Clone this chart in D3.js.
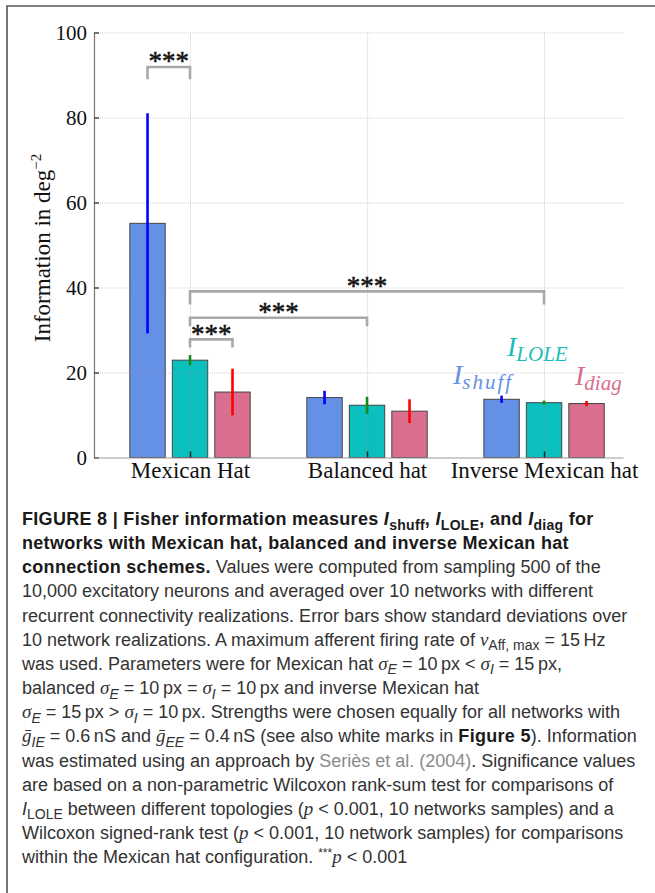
<!DOCTYPE html>
<html>
<head>
<meta charset="utf-8">
<script src="https://cdn.jsdelivr.net/npm/d3@7"></script>
<style>
  html, body { margin: 0; padding: 0; background: #fff; }
  svg { display: block; }
</style>
</head>
<body>
<svg id="fig" width="655" height="893"></svg>
<script>
// ---- data ----
const groups = ["Mexican Hat", "Balanced hat", "Inverse Mexican hat"];
const measures = ["shuff", "LOLE", "diag"];
const shuffMean = [55.1, 14.1, 13.7];
const shuffSD   = [25.9, 1.6, 0.85];
const loleMean  = [22.9, 12.3, 12.9];
const loleSD    = [1.2, 2.0, 0.5];
const diagMean  = [15.4, 10.9, 12.7];
const diagSD    = [5.5, 2.8, 0.6];
const yTicks = [0, 20, 40, 60, 80, 100];
// significance brackets: [groupA, measureA] vs [groupB, measureB], bracket level, leg length
const sigFrom  = [[0, 0], [0, 1], [0, 1], [0, 1]];
const sigTo    = [[0, 1], [0, 2], [1, 1], [2, 1]];
const sigLevel = [91.9, 27.8, 32.9, 39.1];
const sigDrop  = [2.9, 1.9, 2.0, 3.1];
const sigLabel = ["***", "***", "***", "***"];

const means = [shuffMean, loleMean, diagMean];
const sds = [shuffSD, loleSD, diagSD];
const fills = ["#6490E6", "#0ABFBD", "#D96E8F"];
const errColors = ["#0000FF", "#118A11", "#FF0000"];

const svg = d3.select("#fig");

// outer frame (top and left rules)
svg.append("path")
  .attr("d", "M7,893V6H655")
  .attr("fill", "none").attr("stroke", "#555").attr("stroke-width", 1.6);

// ---- scales ----
const x = d3.scaleLinear().domain([0.4576, 3.446]).range([94, 623]);
const y = d3.scaleLinear().domain([0, 100]).range([457.5, 32.5]);
const offset = [-0.24, 0, 0.24];
const barW = 0.2;
const cx = (g, m) => x(g + 1 + offset[m]);

const serif = "'Liberation Serif', 'Times New Roman', serif";
const sans = "'Liberation Sans', Arial, Helvetica, sans-serif";

// ---- bars ----
const rows = [];
groups.forEach((g, gi) => measures.forEach((m, mi) => rows.push({ gi, mi, v: means[mi][gi], sd: sds[mi][gi] })));

svg.append("g").selectAll("rect").data(rows).join("rect")
  .attr("x", d => x(d.gi + 1 + offset[d.mi] - barW / 2))
  .attr("width", d => x(d.gi + 1 + offset[d.mi] + barW / 2) - x(d.gi + 1 + offset[d.mi] - barW / 2))
  .attr("y", d => y(d.v))
  .attr("height", d => y(0) - y(d.v))
  .attr("fill", d => fills[d.mi])
  .attr("stroke", "#444").attr("stroke-width", 1);

// ---- grid (drawn over the bars) ----
const grid = svg.append("g").attr("stroke", "#9a9a9a").attr("stroke-opacity", 0.45)
  .attr("stroke-width", 1).attr("stroke-dasharray", "1,1");
grid.selectAll("line.h").data(yTicks.filter(t => t > 0)).join("line")
  .attr("x1", x.range()[0]).attr("x2", x.range()[1])
  .attr("y1", d => y(d) + 0.5).attr("y2", d => y(d) + 0.5);
grid.selectAll("line.v").data(groups).join("line")
  .attr("x1", (d, i) => x(i + 1) + 0.5).attr("x2", (d, i) => x(i + 1) + 0.5)
  .attr("y1", y(100)).attr("y2", y(0));

// ---- error bars ----
svg.append("g").selectAll("line").data(rows).join("line")
  .attr("x1", d => cx(d.gi, d.mi)).attr("x2", d => cx(d.gi, d.mi))
  .attr("y1", d => y(d.v + d.sd)).attr("y2", d => y(d.v - d.sd))
  .attr("stroke", d => errColors[d.mi]).attr("stroke-width", 2.6);

// ---- axes ----
const yAxis = d3.axisLeft(y).tickValues(yTicks).tickSizeInner(-5).tickSizeOuter(0).tickPadding(7);
const gy = svg.append("g").attr("transform", `translate(${x.range()[0]},0)`).call(yAxis);
gy.select(".domain").attr("stroke", "#777").attr("stroke-width", 1.2);
gy.selectAll(".tick line").attr("stroke", "#333").attr("stroke-width", 1.3);
gy.selectAll(".tick text").attr("font-family", serif).attr("font-size", 21).attr("fill", "#111");

const xAxis = d3.axisBottom(x).tickValues([1, 2, 3]).tickFormat(d => groups[d - 1])
  .tickSizeInner(-6).tickSizeOuter(0).tickPadding(4);
const gx = svg.append("g").attr("transform", `translate(0,${y(0)})`).call(xAxis);
gx.select(".domain").attr("stroke", "#9a9a9a").attr("stroke-width", 1.2);
gx.selectAll(".tick line").attr("stroke", "#222").attr("stroke-width", 1.5);
gx.selectAll(".tick text").attr("font-family", serif).attr("font-size", 23).attr("fill", "#111");

// y-axis title
const yt = svg.append("text")
  .attr("transform", `translate(50,${y(50) + 3}) rotate(-90)`)
  .attr("text-anchor", "middle")
  .attr("font-family", serif).attr("font-size", 23).attr("fill", "#111");
yt.append("tspan").text("Information in deg");
yt.append("tspan").attr("dy", -9).attr("font-size", 15).text("\u22122");

// ---- significance brackets ----
const br = svg.append("g");
sigFrom.forEach((f, i) => {
  const x1 = cx(f[0], f[1]), x2 = cx(sigTo[i][0], sigTo[i][1]);
  const yl = y(sigLevel[i]), yb = y(sigLevel[i] - sigDrop[i]);
  br.append("path")
    .attr("d", `M${x1},${yb}V${yl}H${x2}V${yb}`)
    .attr("fill", "none").attr("stroke", "#a8a8a8").attr("stroke-width", 2.6);
  br.append("text")
    .attr("x", (x1 + x2) / 2).attr("y", yl + 3.5)
    .attr("text-anchor", "middle")
    .attr("font-family", serif).attr("font-size", 27).attr("fill", "#111")
    .attr("stroke", "#111").attr("stroke-width", 0.5)
    .text(sigLabel[i]);
});

// ---- measure labels ----
const lab = [
  { sub: "shuff", x: 453, yb: 384, c: "#6490E6", ls: 2 },
  { sub: "LOLE", x: 507, yb: 356, c: "#1BBDBB", ls: 0 },
  { sub: "diag", x: 575, yb: 385, c: "#D96E8F", ls: 0 }
];
lab.forEach(l => {
  const t = svg.append("text").attr("x", l.x).attr("y", l.yb)
    .attr("font-family", serif).attr("font-style", "italic").attr("fill", l.c);
  t.append("tspan").attr("font-size", 28).text("I");
  t.append("tspan").attr("font-size", 21).attr("dy", 5).attr("letter-spacing", l.ls).text(l.sub);
});

// ---- caption ----
const caption = [
  [["FIGURE 8 | Fisher information measures ", "b"], ["I", "b i"], ["shuff", "b sub"], [", ", "b"], ["I", "b i"], ["LOLE", "b sub"], [", and ", "b"], ["I", "b i"], ["diag", "b sub"], [" for", "b"]],
  [["networks with Mexican hat, balanced and inverse Mexican hat", "b"]],
  [["connection schemes.", "b"], [" Values were computed from sampling 500 of the", ""]],
  [["10,000 excitatory neurons and averaged over 10 networks with different", ""]],
  [["recurrent connectivity realizations. Error bars show standard deviations over", ""]],
  [["10 network realizations. A maximum afferent firing rate of ", ""], ["\u03bd", "m"], ["Aff, max", "sub"], [" = 15\u2009Hz", ""]],
  [["was used. Parameters were for Mexican hat ", ""], ["\u03c3", "m"], ["E", "sub i"], [" = 10\u2009px < ", ""], ["\u03c3", "m"], ["I", "sub i"], [" = 15\u2009px,", ""]],
  [["balanced ", ""], ["\u03c3", "m"], ["E", "sub i"], [" = 10\u2009px = ", ""], ["\u03c3", "m"], ["I", "sub i"], [" = 10\u2009px and inverse Mexican hat", ""]],
  [["\u03c3", "m"], ["E", "sub i"], [" = 15\u2009px > ", ""], ["\u03c3", "m"], ["I", "sub i"], [" = 10\u2009px. Strengths were chosen equally for all networks with", ""]],
  [["g\u0304", "m"], ["IE", "sub i"], [" = 0.6\u2009nS and ", ""], ["g\u0304", "m"], ["EE", "sub i"], [" = 0.4\u2009nS (see also white marks in ", ""], ["Figure 5", "b"], ["). Information", ""]],
  [["was estimated using an approach by ", ""], ["Seri\u00e8s et al. (2004)", "gray"], [". Significance values", ""]],
  [["are based on a non-parametric Wilcoxon rank-sum test for comparisons of", ""]],
  [["I", "i"], ["LOLE", "sub"], [" between different topologies (", ""], ["p", "m"], [" < 0.001, 10 networks samples) and a", ""]],
  [["Wilcoxon signed-rank test (", ""], ["p", "m"], [" < 0.001, 10 network samples) for comparisons", ""]],
  [["within the Mexican hat configuration. ", ""], ["***", "sup"], ["p", "m"], [" < 0.001", ""]]
];

const capSize = 18, capX = 22, capY0 = 525, capStep = 24.15;
caption.forEach((segs, li) => {
  const t = svg.append("text")
    .attr("x", capX).attr("y", capY0 + li * capStep)
    .attr("font-family", sans).attr("font-size", capSize).attr("fill", "#333");
  let cur = 0;
  segs.forEach(([txt, fl]) => {
    const f = fl.split(" ");
    let target = 0, size = capSize;
    if (f.includes("sub")) { target = 4.5; size = 14; }
    if (f.includes("sup")) { target = -6.5; size = 12; }
    const s = t.append("tspan").text(txt).attr("font-size", size);
    if (target !== cur) { s.attr("dy", target - cur); cur = target; }
    if (f.includes("b")) s.attr("font-weight", "bold").attr("fill", "#1a1a1a").attr("letter-spacing", 0.3);
    if (f.includes("i")) s.attr("font-style", "italic");
    if (f.includes("m")) s.attr("font-family", serif).attr("font-style", "italic").attr("font-size", capSize + 1);
    if (f.includes("gray")) s.attr("fill", "#8a8a8a");
  });
});
</script>
</body>
</html>
